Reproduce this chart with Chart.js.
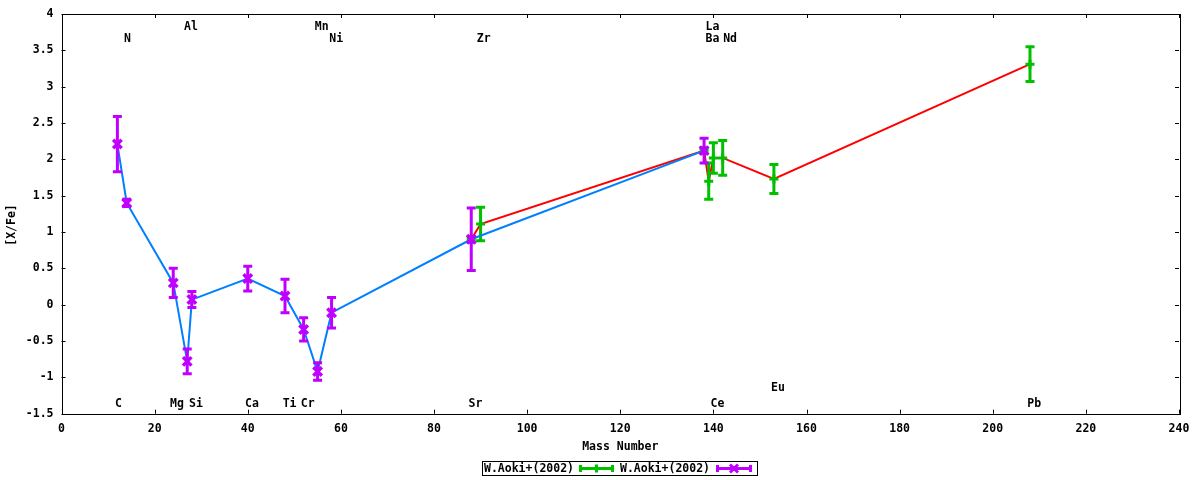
<!DOCTYPE html>
<html><head><meta charset="utf-8">
<script src="https://cdn.jsdelivr.net/npm/chart.js@4.4.1/dist/chart.umd.min.js"></script>
<style>html,body{margin:0;padding:0;background:#fff;}canvas{display:block;}</style>
</head><body>
<canvas id="c" width="1200" height="480"></canvas>
<script>
// ---- data ----
const purpleMass = [12, 14, 24, 27, 28, 40, 48, 52, 55, 58, 88, 138];
const purpleVal  = [2.21, 1.40, 0.30, -0.78, 0.07, 0.36, 0.12, -0.34, -0.92, -0.11, 0.90, 2.12];
const purpleErr  = [0.38, 0.05, 0.20, 0.17, 0.11, 0.17, 0.23, 0.16, 0.12, 0.21, 0.43, 0.17];
const greenMass  = [88, 90, 138, 139, 140, 142, 153, 208];
const greenVal   = [0.90, 1.11, 2.12, 1.70, 2.02, 2.02, 1.73, 3.31];
const greenErr   = [0.04, 0.23, 0.04, 0.25, 0.21, 0.24, 0.20, 0.24];
const elemNames  = ['C','N','Mg','Al','Si','Ca','Ti','Cr','Mn','Ni','Sr','Zr','La','Ba','Nd','Ce','Eu','Pb'];
const elemLabelX = [11.5,13.4,23.3,26.3,27.4,39.4,47.5,51.4,54.4,57.5,87.4,89.2,138.3,138.3,142.1,139.4,152.4,207.4];
const elemLabelY = [-1.36,3.66,-1.36,3.82,-1.36,-1.36,-1.36,-1.36,3.82,3.66,-1.36,3.66,3.82,3.66,3.66,-1.36,-1.15,-1.36];
const xTicks = [0,20,40,60,80,100,120,140,160,180,200,220,240];
const yTicks = [-1.5,-1,-0.5,0,0.5,1,1.5,2,2.5,3,3.5,4];
const seriesNames = ['W.Aoki+(2002)', 'W.Aoki+(2002)'];
const xTitle = 'Mass Number';
const yTitle = '[X/Fe]';

const RED = '#ff0000', GREEN = '#00c000', BLUE = '#0080ff', PURPLE = '#c000ff';
const FONT = 'bold 11.5px "DejaVu Sans Mono", "Liberation Mono", monospace';

Chart.defaults.font.family = '"DejaVu Sans Mono", "Liberation Mono", monospace';
Chart.defaults.font.size = 11.5;
Chart.defaults.font.weight = 'bold';
Chart.defaults.color = '#000';

const toPts = (xs, ys) => xs.map((x, i) => ({x: x, y: ys[i]}));

const errorBars = {
  id: 'errorBars',
  afterDatasetDraw(chart, args) {
    const ds = chart.data.datasets[args.index];
    if (!ds.errors) return;
    const xs = chart.scales.x, ys = chart.scales.y, ctx = chart.ctx;
    ctx.save();
    ctx.strokeStyle = ds.pointBorderColor;
    ctx.lineWidth = 3;
    ctx.lineCap = 'butt';
    ds.data.forEach((p, i) => {
      const px = xs.getPixelForValue(p.x);
      const t = ys.getPixelForValue(p.y + ds.errors[i]);
      const b = ys.getPixelForValue(p.y - ds.errors[i]);
      ctx.beginPath();
      ctx.moveTo(px, t); ctx.lineTo(px, b);
      ctx.moveTo(px - 4.5, t); ctx.lineTo(px + 4.5, t);
      ctx.moveTo(px - 4.5, b); ctx.lineTo(px + 4.5, b);
      ctx.stroke();
    });
    ctx.restore();
  }
};

function drawSample(ctx, x0, x1, y, color, style) {
  ctx.save();
  ctx.strokeStyle = color; ctx.lineWidth = 3;
  ctx.beginPath();
  ctx.moveTo(x0, y); ctx.lineTo(x1, y);
  ctx.moveTo(x0 + 1.5, y - 3.5); ctx.lineTo(x0 + 1.5, y + 3.5);
  ctx.moveTo(x1 - 1.5, y - 3.5); ctx.lineTo(x1 - 1.5, y + 3.5);
  const cx = (x0 + x1) / 2;
  if (style === 'plus') {
    ctx.moveTo(cx, y - 4); ctx.lineTo(cx, y + 4);
  } else {
    ctx.moveTo(cx - 4, y - 4); ctx.lineTo(cx + 4, y + 4);
    ctx.moveTo(cx - 4, y + 4); ctx.lineTo(cx + 4, y - 4);
  }
  ctx.stroke();
  ctx.restore();
}

const decor = {
  id: 'decor',
  afterDraw(chart) {
    const ctx = chart.ctx, a = chart.chartArea, xs = chart.scales.x, ys = chart.scales.y;
    ctx.save();
    // frame
    ctx.strokeStyle = '#000'; ctx.lineWidth = 1;
    ctx.strokeRect(Math.round(a.left) + 0.5, Math.round(a.top) + 0.5,
                   Math.round(a.right - a.left), Math.round(a.bottom - a.top));
    // inward ticks on all four sides
    ctx.beginPath();
    xTicks.forEach(v => {
      const px = Math.round(xs.getPixelForValue(v)) + 0.5;
      ctx.moveTo(px, a.bottom); ctx.lineTo(px, a.bottom - 4);
      ctx.moveTo(px, a.top); ctx.lineTo(px, a.top + 4);
    });
    yTicks.forEach(v => {
      const py = Math.round(ys.getPixelForValue(v)) + 0.5;
      ctx.moveTo(a.left, py); ctx.lineTo(a.left + 4, py);
      ctx.moveTo(a.right, py); ctx.lineTo(a.right - 4, py);
    });
    ctx.stroke();
    // element labels
    ctx.font = FONT; ctx.fillStyle = '#000';
    ctx.textAlign = 'left'; ctx.textBaseline = 'middle';
    elemNames.forEach((n, i) => {
      ctx.fillText(n, xs.getPixelForValue(elemLabelX[i]), ys.getPixelForValue(elemLabelY[i]));
    });
    // axis titles
    ctx.textAlign = 'center';
    ctx.fillText(xTitle, (a.left + a.right) / 2, 447);
    ctx.save();
    ctx.translate(12, 225);
    ctx.rotate(-Math.PI / 2);
    ctx.fillText(yTitle, 0, 0);
    ctx.restore();
    // legend
    ctx.strokeStyle = '#000'; ctx.lineWidth = 1;
    ctx.strokeRect(482.5, 461.5, 275, 14);
    ctx.textAlign = 'left';
    ctx.fillText(seriesNames[0], 484, 469);
    drawSample(ctx, 579, 614, 468.5, GREEN, 'plus');
    ctx.fillText(seriesNames[1], 620, 469);
    drawSample(ctx, 716, 752, 468.5, PURPLE, 'x');
    ctx.restore();
  }
};

new Chart(document.getElementById('c'), {
  type: 'scatter',
  data: {
    datasets: [
      {
        label: seriesNames[0],
        data: toPts(greenMass, greenVal),
        errors: greenErr,
        showLine: true,
        borderColor: RED, borderWidth: 2,
        pointStyle: 'cross', pointRadius: 4.5, pointBorderWidth: 3,
        pointBorderColor: GREEN, pointBackgroundColor: GREEN,
        order: 2
      },
      {
        label: seriesNames[1],
        data: toPts(purpleMass, purpleVal),
        errors: purpleErr,
        showLine: true,
        borderColor: BLUE, borderWidth: 2,
        pointStyle: 'crossRot', pointRadius: 6, pointBorderWidth: 3.5,
        pointBorderColor: PURPLE, pointBackgroundColor: PURPLE,
        order: 1
      }
    ]
  },
  options: {
    responsive: false, animation: false, devicePixelRatio: 1,
    layout: {padding: {top: 14, right: 21, left: 0, bottom: 0}},
    plugins: {legend: {display: false}, tooltip: {enabled: false}},
    elements: {line: {tension: 0}},
    scales: {
      x: {
        type: 'linear', min: 0, max: 240,
        grid: {display: false}, border: {display: false},
        ticks: {stepSize: 20, padding: 0, maxRotation: 0, autoSkip: false},
        afterFit(s) { s.height = 66.3; }
      },
      y: {
        type: 'linear', min: -1.5, max: 4,
        grid: {display: false}, border: {display: false},
        ticks: {stepSize: 0.5, padding: 0, callback: v => String(+Number(v).toFixed(2))},
        afterFit(s) { s.width = 61.5; }
      }
    }
  },
  plugins: [errorBars, decor]
});
</script>
</body></html>
